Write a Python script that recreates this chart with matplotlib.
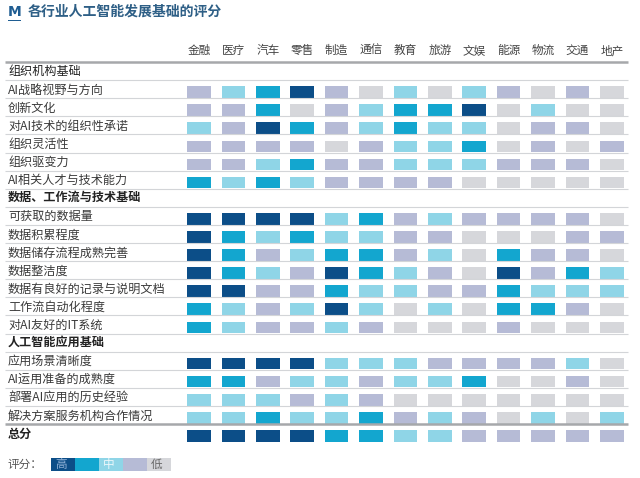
import matplotlib
matplotlib.use('Agg')
import matplotlib.pyplot as plt
from matplotlib.patches import Rectangle
import numpy as np

plt.rcParams['font.family'] = ['Noto Sans CJK SC', 'DejaVu Sans']

# industries (columns)
industries = ['金融', '医疗', '汽车', '零售', '制造', '通信', '教育',
              '旅游', '文娱', '能源', '物流', '交通', '地产']

# rows: section headers have no scores
sections = {0: '组织机构基础', 7: '数据、工作流与技术基础', 15: '人工智能应用基础'}

row_labels = [
    'AI战略视野与方向', '创新文化', '对AI技术的组织性承诺', '组织灵活性',
    '组织驱变力', 'AI相关人才与技术能力',
    '可获取的数据量', '数据积累程度', '数据储存流程成熟完善', '数据整洁度',
    '数据有良好的记录与说明文档', '工作流自动化程度', '对AI友好的IT系统',
    '应用场景清晰度', 'AI运用准备的成熟度', '部署AI应用的历史经验',
    '解决方案服务机构合作情况', '总分',
]

# score levels: 5 = high ... 1 = low
scores = [
    [2, 3, 4, 5, 2, 1, 3, 1, 3, 2, 1, 2, 1],
    [2, 2, 4, 1, 2, 3, 4, 4, 5, 1, 3, 1, 1],
    [3, 2, 5, 4, 2, 3, 4, 3, 3, 1, 2, 2, 1],
    [2, 2, 2, 2, 1, 2, 3, 3, 4, 1, 2, 1, 2],
    [2, 2, 3, 4, 2, 2, 3, 3, 3, 2, 2, 2, 1],
    [4, 3, 4, 3, 2, 2, 2, 2, 1, 1, 1, 1, 1],
    [5, 5, 5, 5, 3, 4, 2, 3, 2, 2, 2, 2, 1],
    [5, 4, 3, 4, 3, 3, 2, 2, 1, 1, 1, 2, 2],
    [5, 4, 2, 3, 4, 4, 2, 3, 1, 4, 2, 2, 1],
    [5, 4, 3, 2, 5, 4, 3, 2, 1, 5, 2, 4, 3],
    [5, 5, 2, 2, 4, 3, 3, 2, 2, 4, 3, 3, 3],
    [4, 3, 2, 3, 5, 3, 1, 3, 1, 4, 4, 2, 1],
    [4, 3, 2, 2, 3, 2, 1, 1, 1, 2, 1, 1, 1],
    [5, 5, 5, 5, 3, 3, 3, 2, 2, 2, 2, 3, 1],
    [4, 4, 2, 3, 3, 2, 3, 3, 4, 1, 1, 2, 1],
    [3, 3, 3, 2, 3, 2, 1, 1, 1, 1, 1, 1, 1],
    [3, 3, 4, 3, 3, 4, 2, 3, 2, 1, 3, 1, 3],
    [5, 5, 5, 5, 4, 4, 3, 3, 2, 2, 2, 2, 2],
]

level_colors = {5: '#0c4e88', 4: '#13a6cf', 3: '#8fd5e7', 2: '#b6bbd6', 1: '#d6d7db'}
legend_levels = [5, 4, 3, 2, 1]
legend_text = {5: '高', 3: '中', 1: '低'}

W, H = 640, 478
fig = plt.figure(figsize=(W / 100, H / 100), dpi=100)
ax = fig.add_axes([0, 0, 1, 1])
ax.axis('off')

# pixel mapping: column centre = 199 + 34.4*i ; row band top = 62 + 18.1*r
col_px, col_step = 199, 34.4
row_px, row_step = 62, 18.1
ax.set_xlim(-col_px / col_step, (W - col_px) / col_step)
ax.set_ylim((H - row_px) / row_step, -row_px / row_step)

def px_to_x(p):
    return (p - col_px) / col_step

n_rows = len(row_labels) + len(sections)
row_index = []
for r in range(n_rows):
    if r in sections:
        ax.text(px_to_x(8), r + 0.5, sections[r], fontsize=8.7, color='#222222',
                fontweight='normal' if r == 0 else 'bold', va='center', ha='left')
    else:
        row_index.append(r)

for k, r in enumerate(row_index):
    bold = row_labels[k] == '总分'
    ax.text(px_to_x(8), r + 0.55, row_labels[k], fontsize=8.7,
            color='#222222' if bold else '#3a3a3a',
            fontweight='bold' if bold else 'normal', va='center', ha='left')
    vals = scores[k]
    ax.bar(np.arange(len(industries)), 0.64, bottom=r + 0.34, width=0.69,
           color=[level_colors[v] for v in vals], linewidth=0)

# column headers
for i, name in enumerate(industries):
    ax.text(i, -0.62, name, fontsize=8.4, color='#444444', ha='center', va='center')

# separators
x0, x1 = px_to_x(5), px_to_x(628)
for r in range(n_rows - 2):
    ax.hlines(r + 1, x0, x1, color='#d3d5d8', lw=0.8)
ax.hlines(0, x0, x1, color='#a6a8ab', lw=1.8)
ax.hlines(n_rows - 1, x0, x1, color='#a6a8ab', lw=1.8)

# title
fig.text(8 / W, 1 - 12 / H, 'M', fontsize=10, fontweight='bold', color='#1f5d92',
         va='center', ha='left', family=['DejaVu Sans'])
fig.add_artist(Rectangle((8 / W, 1 - 21 / H), 13 / W, 1.2 / H, transform=fig.transFigure,
                         color='#1f5d92', lw=0))
fig.text(28 / W, 1 - 12 / H, '各行业人工智能发展基础的评分', fontsize=10,
         fontweight='bold', color='#2e5f86', va='center', ha='left')

# legend
fig.text(8 / W, 1 - 464 / H, '评分：', fontsize=8.4, color='#555555', va='center', ha='left')
seg_w = 24
for j, lv in enumerate(legend_levels):
    xl = 51 + j * seg_w
    fig.add_artist(Rectangle((xl / W, 1 - 471 / H), seg_w / W, 13 / H,
                             transform=fig.transFigure, color=level_colors[lv], lw=0))
    if lv in legend_text:
        tc = {5: '#8fb0d6', 3: '#eef8fb', 1: '#666666'}[lv]
        fig.text((xl + 10) / W, 1 - 464.5 / H, legend_text[lv], fontsize=8.4,
                 color=tc, va='center', ha='center')

fig.savefig('out.png', dpi=100)
